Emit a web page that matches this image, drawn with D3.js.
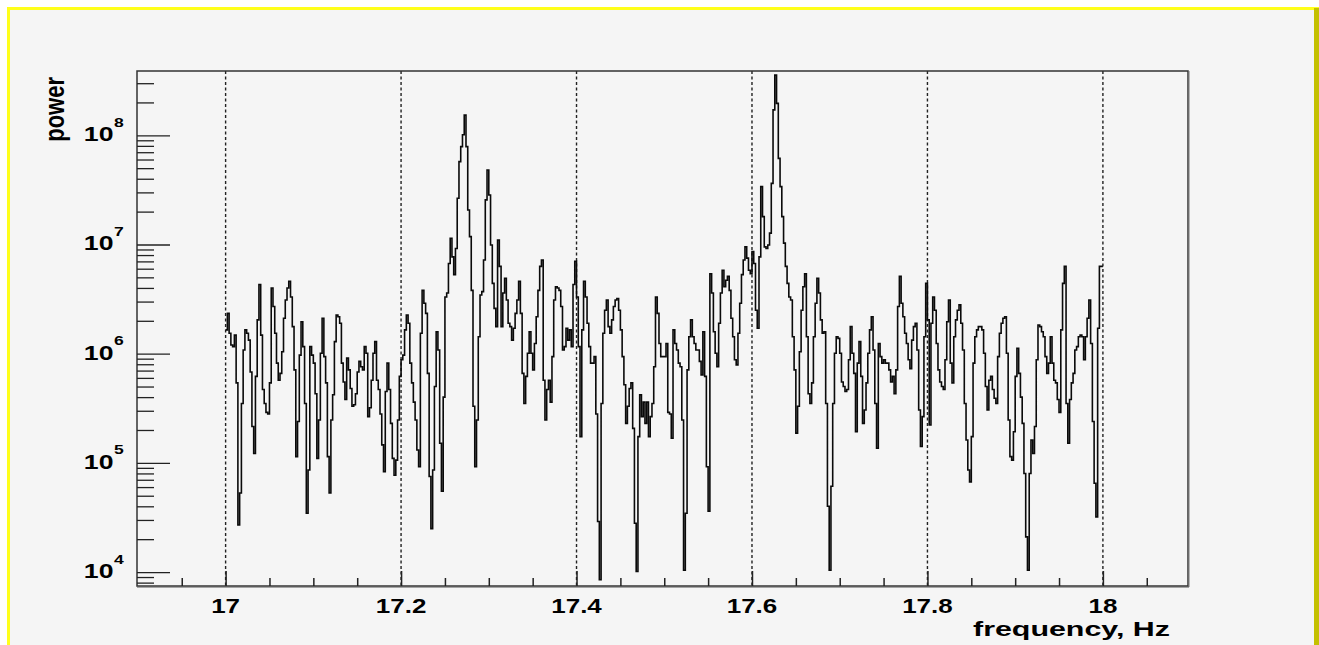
<!DOCTYPE html>
<html>
<head>
<meta charset="utf-8">
<script src="https://cdn.jsdelivr.net/npm/d3@7"></script>
<style>
  html, body { margin: 0; padding: 0; background: #ffffff; overflow: hidden; }
  svg { display: block; }
  text { font-family: "Liberation Sans", Arial, Helvetica, sans-serif; font-weight: bold; fill: #000; }
</style>
</head>
<body>
<svg id="chart" width="1319" height="645"></svg>
<script>
// Power spectrum, 0.002 Hz bins from 17.000 to 18.000 Hz
const binStart = 17.0;
const binWidth = 0.002;
const power = [
  1.65e6, 2.34e6, 1.54e6, 1.2e6, 1.16e6, 1.48e6, 5.4e5, 2.7e4, 5.3e4, 3.5e5,
  1.08e6, 1.65e6, 1.54e6, 1.33e6, 6.8e5, 2.15e5, 1.22e5, 6.2e5, 2.04e6, 4.3e6,
  1.48e6, 4.7e5, 3.5e5, 2.9e5, 2.8e5, 5.4e5, 4.0e6, 2.7e6, 1.54e6, 8.2e5,
  5.7e5, 6.6e5, 1.04e6, 2.11e6, 3.1e6, 4.0e6, 4.6e6, 3.3e6, 1.77e6, 7.1e5,
  1.14e5, 2.39e5, 9.7e5, 1.96e6, 1.16e6, 3.5e5, 3.45e4, 8.6e4, 1.16e6, 9.7e5,
  8.2e5, 4.3e5, 1.1e5, 2.47e5, 1.01e6, 2.11e6, 9.4e5, 5.4e5, 1.14e5, 5.3e4,
  2.47e5, 4.2e5, 1.29e6, 2.26e6, 2.18e6, 1.9e6, 8.2e5, 5.5e5, 3.8e5, 9.1e5,
  7.1e5, 4.8e5, 3.3e5, 3.4e5, 4.3e5, 6.8e5, 8.5e5, 7.6e5, 7.1e5, 1.16e6,
  1.01e6, 2.65e5, 3.2e5, 5.7e5, 1.01e6, 1.29e6, 5.7e5, 4.7e5, 2.8e5, 1.46e5,
  8.3e4, 4.5e5, 8.2e5, 4.7e5, 2.3e5, 1.1e5, 7.7e4, 1.06e5, 2.47e5, 6.2e5,
  8.8e5, 9.7e5, 1.65e6, 2.26e6, 1.9e6, 8.2e5, 5.4e5, 3.6e5, 2.47e5, 1.31e5,
  9.2e4, 1.54e6, 3.8e6, 2.9e6, 2.34e6, 6.6e5, 7.5e4, 2.5e4, 8.6e4, 5.0e5,
  1.59e6, 1.08e6, 1.51e5, 5.5e4, 4.0e5, 3.3e6, 3.6e6, 6.7e6, 1.14e7, 7.7e6,
  5.3e6, 9.2e6, 2.65e7, 5.74e7, 7.87e7, 1.01e8, 1.53e8, 7.87e7, 2.07e7, 1.18e7,
  3.8e6, 3.3e5, 9.2e4, 2.47e5, 1.43e6, 3.45e6, 3.7e6, 7.2e6, 2.56e7, 4.81e7,
  2.84e7, 9.9e6, 4.4e6, 2.6e6, 1.77e6, 1.1e7, 6.3e6, 1.77e6, 3.6e6, 4.9e6,
  3.1e6, 1.9e6, 1.77e6, 1.33e6, 1.71e6, 2.34e6, 3.1e6, 4.6e6, 2.34e6, 6.6e5,
  3.5e5, 6.2e5, 1.01e6, 1.59e6, 1.01e6, 7.1e5, 1.24e6, 2.18e6, 3.8e6, 6.3e6,
  7.2e6, 5.7e5, 2.47e5, 4.7e5, 5.7e5, 3.6e5, 9.4e5, 3.1e6, 4.1e6, 4.0e6,
  3.8e6, 2.7e6, 1.08e6, 1.16e6, 1.71e6, 1.33e6, 1.65e6, 1.16e6, 4.3e6, 7.0e6,
  3.3e6, 1.16e6, 1.74e5, 1.65e6, 4.6e6, 3.3e6, 1.9e6, 1.16e6, 8.2e5, 8.2e5,
  9.4e5, 2.8e5, 2.9e4, 8.5e3, 3.5e5, 1.54e6, 2.5e6, 3.1e6, 1.77e6, 1.54e6,
  2.04e6, 2.7e6, 3.1e6, 3.2e6, 2.5e6, 1.65e6, 9.4e5, 5.2e5, 2.3e5, 3.3e5,
  4.8e5, 5.4e5, 2.07e5, 2.8e4, 1.01e4, 1.74e5, 4.2e5, 2.65e5, 3.6e5, 2.3e5,
  3.6e5, 1.74e5, 2.65e5, 3.5e5, 7.6e5, 3.3e6, 2.34e6, 1.24e6, 9.4e5, 9.4e5,
  9.4e5, 1.24e6, 2.9e5, 2.8e5, 1.68e5, 1.65e6, 1.24e6, 1.08e6, 8.2e5, 7.6e5,
  2.47e5, 1.04e4, 3.45e4, 7.1e5, 1.43e6, 2.04e6, 1.43e6, 1.24e6, 1.08e6, 1.08e6,
  8.5e5, 6.4e5, 1.59e6, 6.2e5, 9.2e4, 3.6e4, 5.4e6, 3.6e6, 1.59e6, 1.01e6,
  7.6e5, 1.9e6, 3.6e6, 5.8e6, 4.1e6, 4.7e6, 5.1e6, 3.8e6, 2.11e6, 1.43e6,
  8.8e5, 7.9e5, 1.54e6, 2.9e6, 5.3e6, 7.2e6, 9.5e6, 7.5e6, 5.8e6, 5.4e6,
  8.6e6, 6.7e6, 2.5e6, 1.71e6, 7.7e6, 3.39e7, 1.8e7, 9.5e6, 9.2e6, 9.9e6,
  1.27e7, 3.63e7, 1.71e8, 3.56e8, 1.96e8, 6.15e7, 3.39e7, 1.8e7, 1.03e7, 6.3e6,
  4.4e6, 3.3e6, 3.1e6, 1.43e6, 7.1e5, 1.87e5, 3.3e5, 1.04e6, 2.5e6, 4.1e6,
  5.4e6, 1.43e6, 4.3e5, 3.5e5, 5.4e5, 1.43e6, 2.9e6, 4.9e6, 3.6e6, 2.04e6,
  1.54e6, 1.59e6, 3.5e5, 4.0e4, 1.04e4, 6.1e4, 3.5e5, 1.01e6, 1.43e6, 1.38e6,
  1.01e6, 5.5e5, 5.0e5, 4.5e5, 4.7e5, 8.8e5, 1.77e6, 1.01e6, 6.6e5, 1.93e5,
  8.2e5, 1.29e6, 6.2e5, 2.3e5, 3.05e5, 5.4e5, 1.01e6, 1.65e6, 2.18e6, 1.08e6,
  3.5e5, 1.36e5, 1.24e6, 9.4e5, 8.2e5, 8.8e5, 8.2e5, 8.2e5, 7.1e5, 5.5e5,
  6.2e5, 4.3e5, 7.1e5, 2.7e6, 5.1e6, 2.9e6, 2.18e6, 1.54e6, 1.24e6, 8.8e5,
  7.3e5, 1.33e6, 1.77e6, 1.9e6, 1.08e6, 3.05e5, 1.41e5, 2.65e5, 1.43e6, 4.4e6,
  2.04e6, 2.22e5, 1.9e6, 3.3e6, 2.5e6, 1.24e6, 7.1e5, 5.5e5, 5.0e5, 4.7e5,
  8.8e5, 1.96e6, 3.1e6, 8.2e5, 5.4e5, 1.43e6, 2.04e6, 2.5e6, 2.8e6, 1.9e6,
  1.08e6, 3.5e5, 1.62e5, 8.6e4, 6.7e4, 1.74e5, 8.2e5, 1.43e6, 1.65e6, 1.77e6,
  1.77e6, 1.65e6, 1.01e6, 5.0e5, 3.05e5, 5.7e5, 6.2e5, 4.7e5, 3.9e5, 3.5e5,
  9.4e5, 1.54e6, 1.9e6, 2.11e6, 2.18e6, 1.01e6, 2.47e5, 1.14e5, 1.06e5, 1.93e5,
  6.2e5, 1.12e6, 6.6e5, 4.0e5, 2.3e5, 8.0e4, 2.1e4, 1.04e4, 8.0e4, 1.62e5,
  1.22e5, 2.15e5, 8.8e5, 1.83e6, 1.77e6, 1.59e6, 1.43e6, 9.4e5, 6.6e5, 8.2e5,
  1.43e6, 8.2e5, 5.7e5, 5.4e5, 3.8e5, 2.9e5, 1.65e6, 4.4e6, 6.3e6, 3.5e5,
  1.51e5, 3.8e5, 5.4e5, 6.6e5, 1.08e6, 1.16e6, 1.43e6, 1.48e6, 1.43e6, 8.8e5,
  1.43e6, 2.11e6, 3.1e6, 1.24e6, 2.39e5, 6.5e4, 3.2e4, 1.71e6, 6.3e6, 6.3e6
];

// Axis ticks and labels
const xMajorTicks = [17.0, 17.2, 17.4, 17.6, 17.8, 18.0];
const xTickLabels = ["17", "17.2", "17.4", "17.6", "17.8", "18"];
const xMinorStep = 0.05;
const yDecades = [1e4, 1e5, 1e6, 1e7, 1e8];
const yExponents = ["4", "5", "6", "7", "8"];
const xTitle = "frequency, Hz";
const yTitle = "power";

const W = 1319, H = 645;
const frame = { left: 137, top: 71, right: 1188, bottom: 586 };

const svg = d3.select("#chart");

// canvas: white margin, grey pad, bevelled yellow border
svg.append("rect").attr("width", W).attr("height", H).attr("fill", "#ffffff");
svg.append("rect").attr("x", 7).attr("y", 7).attr("width", W - 7).attr("height", H - 7).attr("fill", "#f5f5f5");
svg.append("rect").attr("x", 7).attr("y", 7).attr("width", W - 7).attr("height", 3).attr("fill", "#ffff1a");
svg.append("rect").attr("x", 7).attr("y", 7).attr("width", 3).attr("height", H - 7).attr("fill", "#ffff1a");
svg.append("rect").attr("x", 1314).attr("y", 8).attr("width", 5).attr("height", H - 8).attr("fill", "#c4c000");

const x = d3.scaleLinear().domain([16.899, 18.097]).range([frame.left, frame.right]);
const y = d3.scaleLog().domain([7.45e3, 3.88e8]).range([frame.bottom, frame.top]);

const plot = svg.append("g");

// vertical dashed grid at the major frequency ticks
plot.selectAll("line.grid").data(xMajorTicks).enter().append("line")
  .attr("class", "grid")
  .attr("x1", d => x(d)).attr("x2", d => x(d))
  .attr("y1", frame.top).attr("y2", frame.bottom)
  .attr("stroke", "#222").attr("stroke-width", 1.4).attr("stroke-dasharray", "3,2.5");

// histogram as steps
const pts = power.map((v, i) => [binStart + i * binWidth, v]);
pts.push([binStart + power.length * binWidth, power[power.length - 1]]);
const line = d3.line().x(d => x(d[0])).y(d => y(d[1])).curve(d3.curveStepAfter);
plot.append("path").datum(pts)
  .attr("d", line)
  .attr("fill", "none").attr("stroke", "#0a0a0a").attr("stroke-width", 1.6)
  .attr("stroke-linejoin", "miter");

// frame
plot.append("rect")
  .attr("x", frame.left).attr("y", frame.top)
  .attr("width", frame.right - frame.left).attr("height", frame.bottom - frame.top)
  .attr("fill", "none").attr("stroke", "#333").attr("stroke-width", 1.5);
plot.append("line").attr("x1", frame.right + 1).attr("x2", frame.right + 1)
  .attr("y1", frame.top).attr("y2", frame.bottom + 1).attr("stroke", "#777").attr("stroke-width", 1);
plot.append("line").attr("x1", frame.left).attr("x2", frame.right + 1)
  .attr("y1", frame.bottom + 1).attr("y2", frame.bottom + 1).attr("stroke", "#555").attr("stroke-width", 1);

// x axis ticks, pointing into the frame
const xAxis = d3.axisTop(x)
  .tickValues(xMajorTicks).tickSize(15).tickFormat("");
const xAxisMinor = d3.axisTop(x)
  .tickValues(d3.range(0, 24).map(k => +(16.9 + xMinorStep * (k + 1)).toFixed(3))
    .filter(v => v < 18.097 && !xMajorTicks.some(m => Math.abs(m - v) < 1e-6)))
  .tickSize(8).tickFormat("");
[xAxis, xAxisMinor].forEach(ax => {
  const g = plot.append("g").attr("transform", `translate(0,${frame.bottom})`).call(ax);
  g.select(".domain").remove();
  g.selectAll(".tick line").attr("stroke", "#222").attr("stroke-width", 1.5);
});

// y axis ticks (log), pointing into the frame
const yMinor = [];
for (let e = 3; e <= 8; e++) for (let m = 2; m <= 9; m++) {
  const v = m * Math.pow(10, e);
  if (v >= 7.45e3 && v <= 3.88e8) yMinor.push(v);
}
const yAxis = d3.axisRight(y).tickValues(yDecades).tickSize(33).tickFormat("");
const yAxisMinor = d3.axisRight(y).tickValues(yMinor).tickSize(17).tickFormat("");
[yAxis, yAxisMinor].forEach(ax => {
  const g = plot.append("g").attr("transform", `translate(${frame.left},0)`).call(ax);
  g.select(".domain").remove();
  g.selectAll(".tick line").attr("stroke", "#222").attr("stroke-width", 1.3);
});

// text helper: horizontally widened bold type
const SX = 1.3;
function label(px, py, txt, size, anchor, sx) {
  return svg.append("text")
    .attr("transform", `translate(${px},${py}) scale(${sx},1)`)
    .attr("text-anchor", anchor)
    .attr("font-size", size)
    .text(txt);
}

// x tick labels
xMajorTicks.forEach((t, i) => label(x(t), 613, xTickLabels[i], 20, "middle", SX));

// y tick labels: 10 with superscript exponent
yDecades.forEach((d, i) => {
  label(113.5, y(d) + 6, "10", 20.5, "end", SX);
  label(114, y(d) - 8.5, yExponents[i], 13.5, "start", SX);
});

// axis titles
label(1170, 636, xTitle, 20, "end", 1.52);
svg.append("text")
  .attr("transform", `translate(63.5,77) rotate(-90) scale(1,1.25)`)
  .attr("text-anchor", "end")
  .attr("font-size", 22)
  .text(yTitle);
</script>
</body>
</html>
